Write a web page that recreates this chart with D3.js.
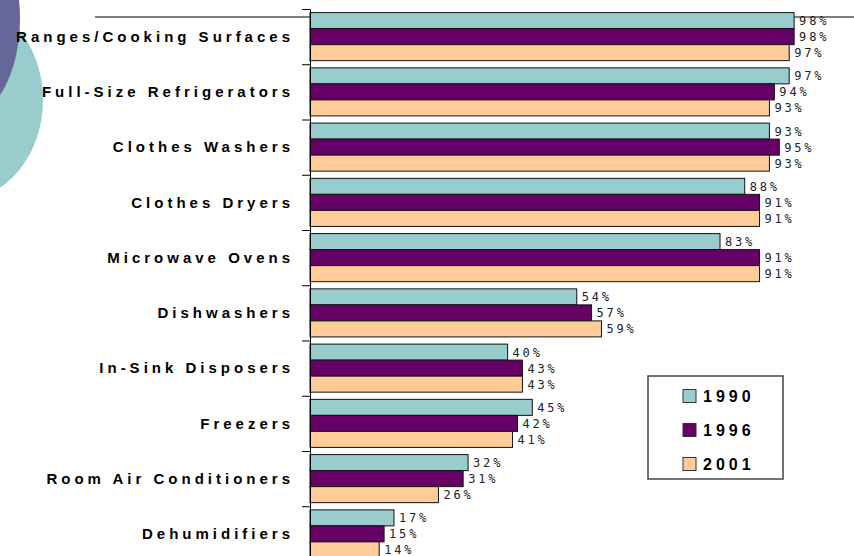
<!DOCTYPE html>
<html>
<head>
<meta charset="utf-8">
<script src="https://cdn.jsdelivr.net/npm/d3@7/dist/d3.min.js"></script>
<style>
  body { margin: 0; background: #fff; }
  svg { display: block; }
</style>
</head>
<body>
<div id="chart"></div>
<script>
// appliance saturation, grouped horizontal bars
const categories = [
  'Ranges/Cooking Surfaces', 'Full-Size Refrigerators', 'Clothes Washers',
  'Clothes Dryers', 'Microwave Ovens', 'Dishwashers', 'In-Sink Disposers',
  'Freezers', 'Room Air Conditioners', 'Dehumidifiers'
];
const seriesNames = ['1990', '1996', '2001'];
const values1990 = [98, 97, 93, 88, 83, 54, 40, 45, 32, 17];
const values1996 = [98, 94, 95, 91, 91, 57, 43, 42, 31, 15];
const values2001 = [97, 93, 93, 91, 91, 59, 43, 41, 26, 14];
const seriesColors = ['#99cccc', '#660066', '#ffcc99'];

(function(){
  const width = 854, height = 556;
  const svg = d3.select('#chart').append('svg').attr('width', width).attr('height', height);

  const series = [values1990, values1996, values2001];
  const rows = categories.map((c, i) => ({ name: c, vals: series.map((s, j) => ({ key: seriesNames[j], value: s[i] })) }));

  // decorative circles from the slide
  svg.append('ellipse').attr('cx', -40).attr('cy', 100).attr('rx', 83).attr('ry', 100).attr('fill', '#99cccc');
  svg.append('ellipse').attr('cx', -30).attr('cy', 18).attr('rx', 50).attr('ry', 96).attr('fill', '#666699');

  // slide rule line
  svg.append('line').attr('x1', 95).attr('x2', width).attr('y1', 17).attr('y2', 17)
    .attr('stroke', '#000').attr('stroke-width', 1);

  const x0 = 310;
  const x = d3.scaleLinear().domain([0, 100]).range([x0, 804]);
  const y = d3.scaleBand().domain(categories).range([9, 561.5]).padding(0);
  const yInner = d3.scaleBand().domain(seriesNames).range([3.6, y.bandwidth() - 3.6]);
  const color = d3.scaleOrdinal().domain(seriesNames).range(seriesColors);

  const g = svg.append('g');
  const group = g.selectAll('.grp')
    .data(rows)
    .enter().append('g')
    .attr('class', 'grp')
    .attr('transform', d => `translate(0,${y(d.name)})`);

  group.selectAll('rect')
    .data(d => d.vals)
    .enter().append('rect')
    .attr('x', x(0))
    .attr('y', d => yInner(d.key))
    .attr('width', d => x(d.value) - x(0))
    .attr('height', yInner.bandwidth())
    .attr('fill', d => color(d.key))
    .attr('stroke', '#111')
    .attr('stroke-width', 1);

  group.selectAll('text.val')
    .data(d => d.vals)
    .enter().append('text')
    .attr('class', 'val')
    .attr('x', d => x(d.value) + 5)
    .attr('y', d => yInner(d.key) + yInner.bandwidth() / 2)
    .attr('dy', '0.38em')
    .style('font-family', '"DejaVu Sans Mono", monospace')
    .style('font-size', '12px')
    .style('letter-spacing', '2.8px')
    .attr('fill', '#222')
    .text(d => d.value + '%');

  // axis with ticks between categories
  const yIdx = d3.scaleLinear().domain([0, categories.length]).range([9, 561.5]);
  svg.append('g')
    .attr('transform', `translate(${x0},0)`)
    .call(d3.axisLeft(yIdx).tickValues(d3.range(0, categories.length + 1)).tickFormat('').tickSize(8).tickSizeOuter(0))
    .call(a => a.select('.domain').attr('stroke', '#000'))
    .call(a => a.selectAll('line').attr('stroke', '#000'));

  // category labels
  svg.append('g').selectAll('text')
    .data(categories)
    .enter().append('text')
    .attr('x', 294)
    .attr('y', d => y(d) + y.bandwidth() / 2)
    .attr('dy', '0.35em')
    .attr('text-anchor', 'end')
    .style('font-family', '"Liberation Sans", Arial, sans-serif')
    .style('font-weight', 'bold')
    .style('font-size', '15px')
    .style('letter-spacing', '4px')
    .attr('fill', '#000')
    .text(d => d);

  // legend
  const legend = svg.append('g').attr('transform', 'translate(648,376)');
  legend.append('rect').attr('width', 135).attr('height', 103)
    .attr('fill', '#fff').attr('stroke', '#444').attr('stroke-width', 1.5);
  const item = legend.selectAll('.item')
    .data(seriesNames)
    .enter().append('g')
    .attr('class', 'item')
    .attr('transform', (d, i) => `translate(35,${20 + i * 34})`);
  item.append('rect').attr('width', 13).attr('height', 13)
    .attr('y', -6.5)
    .attr('fill', d => color(d)).attr('stroke', '#333');
  item.append('text')
    .attr('x', 20)
    .attr('dy', '0.36em')
    .style('font-family', '"Liberation Sans", Arial, sans-serif')
    .style('font-weight', 'bold')
    .style('font-size', '16px')
    .style('letter-spacing', '4px')
    .text(d => d);
})();
</script>
</body>
</html>
